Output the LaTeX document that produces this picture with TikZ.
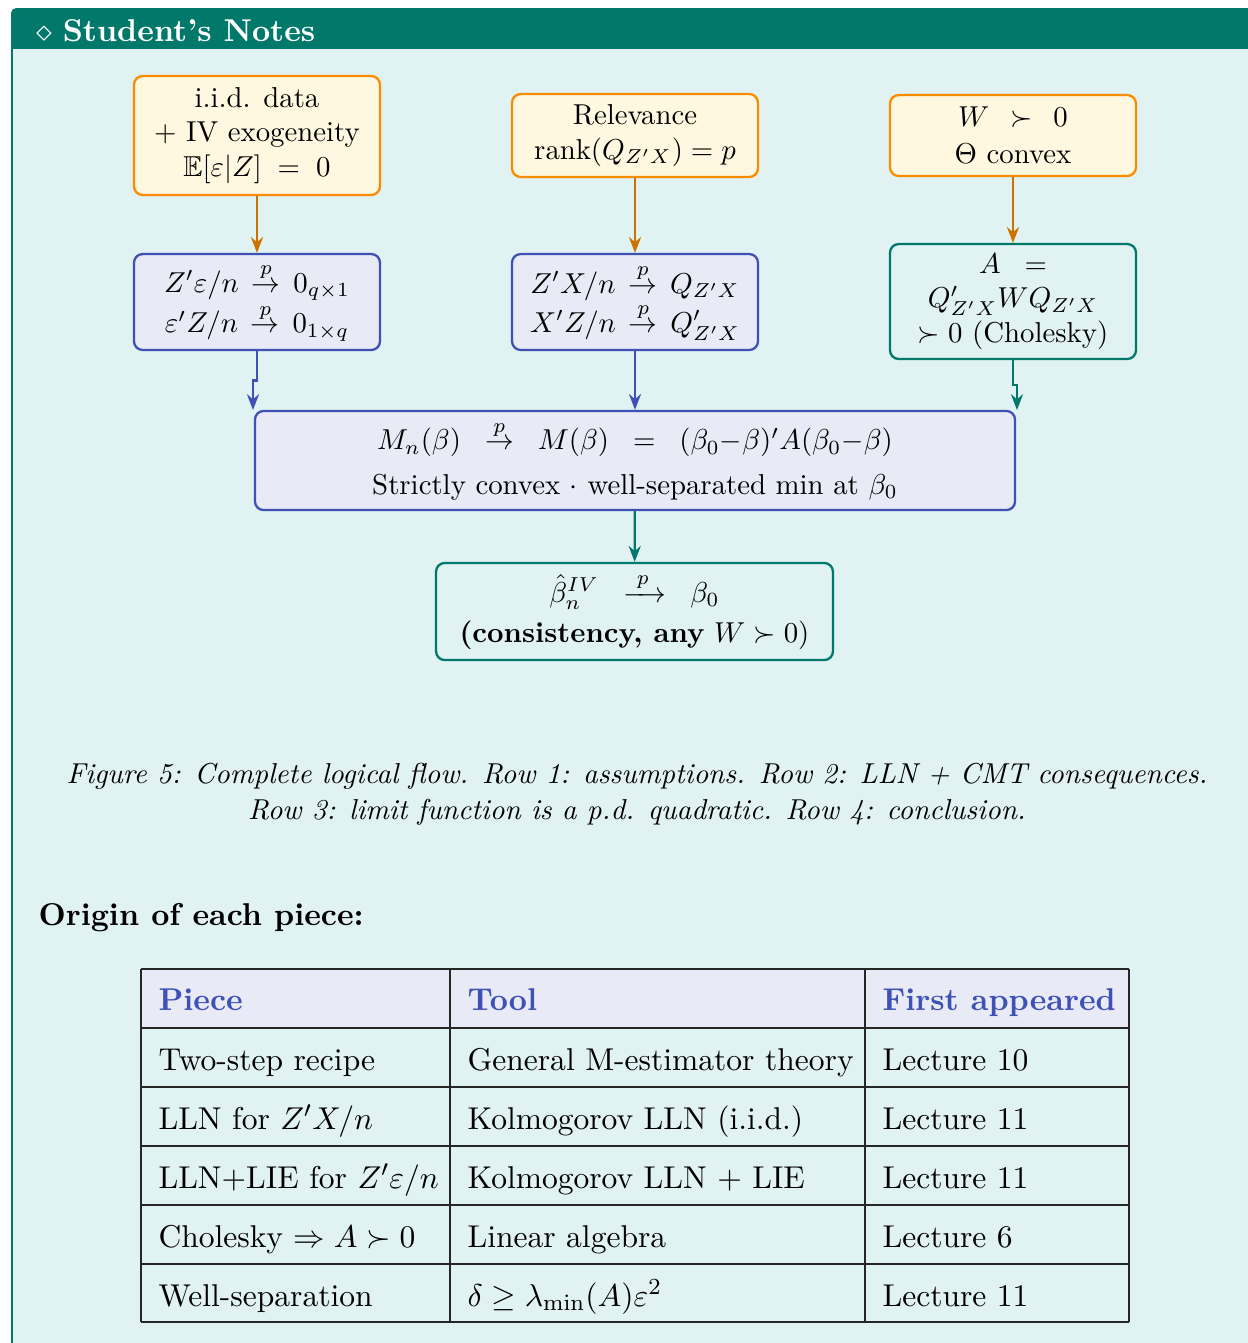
\documentclass[tikz,border=0pt]{standalone}
\usepackage{amsmath,amssymb}
\usetikzlibrary{arrows.meta,calc}

\definecolor{frameteal}{RGB}{0,121,107}
\definecolor{bodybg}{RGB}{224,242,241}
\definecolor{ambfill}{RGB}{255,248,225}
\definecolor{ambdraw}{RGB}{251,140,0}
\definecolor{ambarrow}{RGB}{204,114,0}
\definecolor{indfill}{RGB}{232,234,246}
\definecolor{inddraw}{RGB}{63,81,181}

\begin{document}
\begin{tikzpicture}[x=0.3472pt,y=-0.3472pt,
  box/.style={rounded corners=3pt, line width=0.8pt, align=center, inner sep=0pt,
    font=\fontsize{10}{12}\selectfont, minimum width=85.4pt},
  assume/.style={box, draw=ambdraw, fill=ambfill},
  conseq/.style={box, draw=inddraw, fill=indfill},
  result/.style={box, draw=frameteal, fill=bodybg},
  arr/.style={-{Stealth[length=5.5pt,width=4.2pt,inset=1.8pt]}, line width=0.8pt},
  txt/.style={inner sep=0pt, font=\fontsize{10.95}{13.6}\selectfont},
  cell/.style={txt, anchor=base west},
  headcell/.style={cell, text=inddraw, font=\fontsize{10.95}{13.6}\selectfont\bfseries},
  rule/.style={line width=0.5pt, black!85}
]
\clip (0,0) rectangle (1248,1343);
\useasboundingbox (0,0) rectangle (1248,1343);
\fill[white] (0,0) rectangle (1248,1343);

% framed notes box: teal title bar and light body
\fill[frameteal, rounded corners=1.8pt] (11,8) rectangle (1275,1370);
\fill[bodybg] (13,49) rectangle (1273,1368);
\node[txt, anchor=base west, text=white] (title) at (36,41) {$\diamond$\ \textbf{Student's Notes}};

% row 1: assumptions
\node[assume, minimum height=41.3pt] (iid) at (257,135.5)
  {i.i.d. data\\+ IV exogeneity\\$\mathbb{E}[\varepsilon|Z] \;=\; 0$};
\node[assume, minimum height=28.8pt] (rel) at (635,135.5)
  {Relevance\\$\mathrm{rank}(Q_{Z'X}) = p$};
\node[assume, minimum height=28.1pt] (wpd) at (1013,135.5)
  {$W \;\,\succ\;\, 0$\\[1pt]$\Theta$ convex};

% row 2: LLN + CMT consequences
\node[conseq, minimum height=33.3pt] (zeps) at (257,302)
  {$Z'\varepsilon/n \,\overset{p}{\to}\, 0_{q\times 1}$\\$\varepsilon'Z/n \,\overset{p}{\to}\, 0_{1\times q}$};
\node[conseq, minimum height=33.3pt] (zx) at (635,302)
  {$Z'X/n \,\overset{p}{\to}\, Q_{Z'X}$\\$X'Z/n \,\overset{p}{\to}\, Q'_{Z'X}$};
\node[result, minimum height=39.9pt] (amat) at (1013,301.5)
  {$A \;\;=$\\$Q'_{Z'X} W Q_{Z'X}$\\$\succ 0$ (Cholesky)};

% row 3: limit function
\node[conseq, minimum width=263.9pt, minimum height=34.4pt] (mfun) at (635,460.5)
  {$M_n(\beta) \;\;\overset{p}{\to}\;\; M(\beta) \;\;=\;\; (\beta_0{-}\beta)'A(\beta_0{-}\beta)$\\[3.5pt]
   Strictly convex $\cdot$ well-separated min at $\beta_0$};

% row 4: conclusion
\node[result, minimum width=137.8pt, minimum height=33.7pt] (concl) at (634.5,611.5)
  {$\hat\beta_n^{IV} \;\;\xrightarrow{\;p\;}\;\; \beta_0$\\[2pt]\textbf{(consistency, any} $W \succ 0)$};

% connectors
\coordinate (mL) at (253,410);
\coordinate (mR) at (1017,410);
\draw[arr, ambarrow] (iid) -- (zeps);
\draw[arr, ambarrow] (rel) -- (zx);
\draw[arr, ambarrow] (wpd) -- (amat);
\draw[arr, inddraw] (zeps.south) |- ($(zeps.south)!0.5!(mL)$) -| (mL);
\draw[arr, inddraw] (zx) -- (mfun);
\draw[arr, frameteal] (amat.south) |- ($(amat.south)!0.5!(mR)$) -| (mR);
\draw[arr, frameteal] (mfun) -- (concl);

% caption
\node[txt, align=center, font=\fontsize{10}{12.5}\selectfont\itshape] (cap) at (637,794)
  {Figure 5: Complete logical flow. Row 1: assumptions. Row 2: LLN + CMT consequences.\\
   Row 3: limit function is a p.d. quadratic. Row 4: conclusion.};

\node[txt, anchor=base west, font=\fontsize{10.95}{13.6}\selectfont\bfseries] (orig) at (38,925)
  {Origin of each piece:};

% table of origins
\fill[indfill] (141,969) rectangle (1129,1028);
\foreach \yy in {969,1028,1087,1146,1205,1264,1322}
  \draw[rule] (141,\yy) -- (1129,\yy);
\foreach \xx in {141,450,865,1129}
  \draw[rule] (\xx,969) -- (\xx,1322);

\node[headcell] (h1) at (158,1010) {Piece};
\node[headcell] (h2) at (467,1010) {Tool};
\node[headcell] (h3) at (882,1010) {First appeared};

\node[cell] (r1a) at (158,1070) {Two-step recipe};
\node[cell] (r1b) at (467,1070) {General M-estimator theory};
\node[cell] (r1c) at (882,1070) {Lecture 10};

\node[cell] (r2a) at (158,1129) {LLN for $Z'X/n$};
\node[cell] (r2b) at (467,1129) {Kolmogorov LLN (i.i.d.)};
\node[cell] (r2c) at (882,1129) {Lecture 11};

\node[cell] (r3a) at (158,1188) {LLN+LIE for $Z'\varepsilon/n$};
\node[cell] (r3b) at (467,1188) {Kolmogorov LLN + LIE};
\node[cell] (r3c) at (882,1188) {Lecture 11};

\node[cell] (r4a) at (158,1247) {Cholesky $\Rightarrow A \succ 0$};
\node[cell] (r4b) at (467,1247) {Linear algebra};
\node[cell] (r4c) at (882,1247) {Lecture 6};

\node[cell] (r5a) at (158,1306) {Well-separation};
\node[cell] (r5b) at (467,1306) {$\delta \geq \lambda_{\min}(A)\varepsilon^2$};
\node[cell] (r5c) at (882,1306) {Lecture 11};
\end{tikzpicture}
\end{document}
